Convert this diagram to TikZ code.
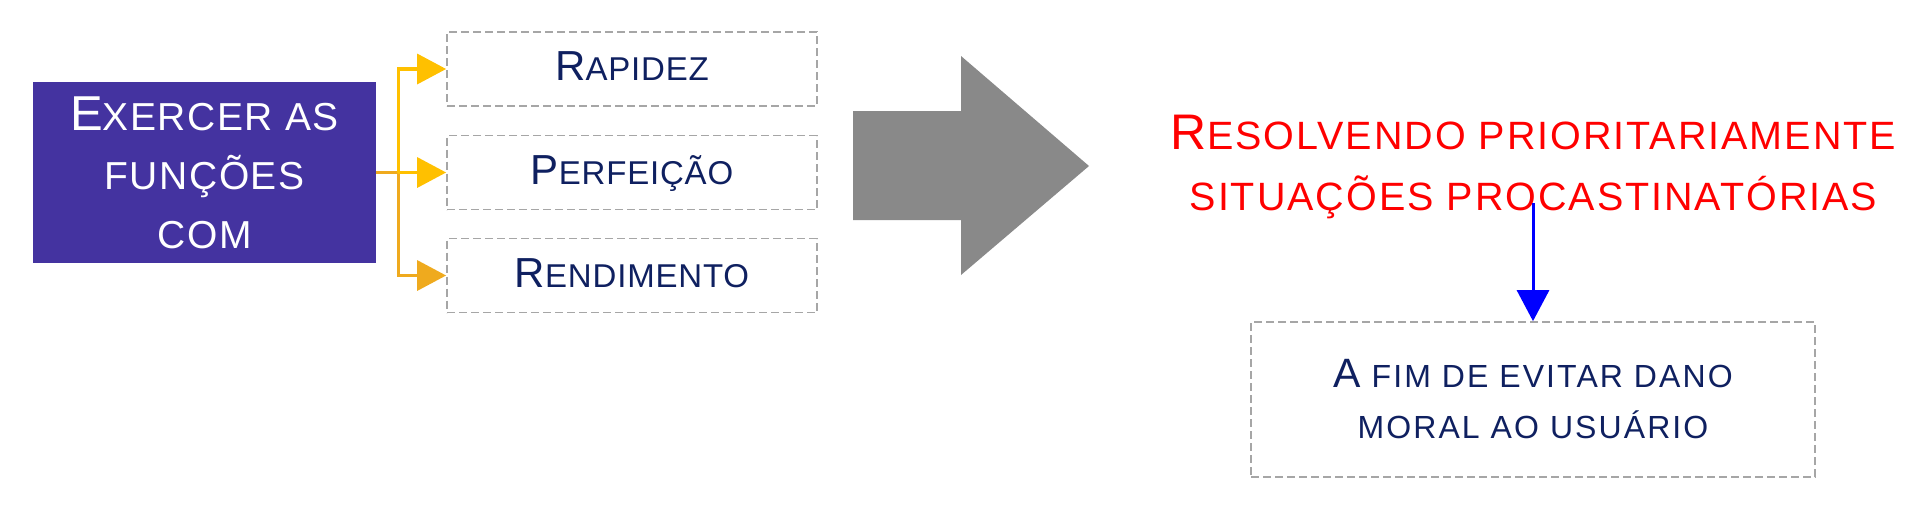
\documentclass[tikz,border=0pt]{standalone}
\usepackage{fontspec}
\setmainfont{Liberation Sans}
\usetikzlibrary{arrows.meta}
\definecolor{purplebox}{HTML}{4433A0}
\definecolor{navy}{HTML}{0F2060}
\definecolor{gold}{HTML}{FFC000}
\definecolor{amber}{HTML}{EFAA1E}
\definecolor{arrowgray}{HTML}{898989}
\definecolor{dashgray}{HTML}{A6A6A6}
\definecolor{pureblue}{HTML}{0000FF}
\definecolor{purered}{HTML}{FF0000}
\newcommand\initcap[2]{{\fontsize{#1}{#1}\selectfont #2}}
\begin{document}
\begin{tikzpicture}[x=1pt,y=-1pt,
  mainbox/.style={fill=purplebox, draw=none, minimum width=343pt, minimum height=181pt, inner sep=0pt,
    text=white, align=center, font=\fontsize{39}{59}\selectfont\addfontfeature{LetterSpace=4}},
  optbox/.style={draw=dashgray, line width=1.7pt, dash pattern=on 8pt off 4pt, minimum width=370pt,
    minimum height=74pt, inner sep=0pt, text=navy, text height=30pt, text depth=7pt,
    font=\fontsize{33}{40}\selectfont\addfontfeature{LetterSpace=2.5}},
  resbox/.style={draw=dashgray, line width=1.7pt, dash pattern=on 8pt off 4pt, minimum width=564pt,
    minimum height=155pt, inner sep=0pt, text=navy, align=center,
    font=\fontsize{32}{51}\selectfont\addfontfeature{LetterSpace=6.5}},
  redtext/.style={text=purered, align=center, inner sep=0pt,
    font=\fontsize{39.5}{60.5}\selectfont\addfontfeature{LetterSpace=5}},
  goldline/.style={draw=gold, line width=3.3pt, -{Triangle[length=29pt,width=30pt]}},
  amberline/.style={draw=amber, line width=3.3pt, -{Triangle[length=29pt,width=30pt]}},
  blueline/.style={draw=pureblue, line width=3pt, -{Triangle[length=31pt,width=32pt]}}
]
\useasboundingbox (0,0) rectangle (1925,515);

\node[mainbox] (main) at (204.5,172.5) {\initcap{49}{E}XERCER AS\\FUNÇÕES\\COM};

\node[optbox] (rap) at (632,69) {\initcap{42}{R}APIDEZ};
\node[optbox] (perf) at (632,172.5) {\initcap{42}{P}ERFEIÇÃO};
\node[optbox] (rend) at (632,275.5) {\initcap{42}{R}ENDIMENTO};

\coordinate (j) at ([xshift=22pt]main.east);
\draw[amberline] (main.east) -- (j) |- (rend.west);
\draw[goldline] (j) |- (rap.west);
\draw[goldline] (j) -- (perf.west);

\fill[arrowgray] (853,111) -- (961,111) -- (961,56) -- (1089,166) -- (961,275) -- (961,220) -- (853,220) -- cycle;

\node[redtext] (res) at (1533.5,167) {\initcap{50}{R}ESOLVENDO PRIORITARIAMENTE\\SITUAÇÕES PROCASTINATÓRIAS};

\node[resbox] (goal) at (1533,399.5) {\initcap{41}{A} FIM DE EVITAR DANO\\MORAL AO USUÁRIO};

\draw[blueline] ([yshift=16pt]res.south -| goal.north) -- (goal.north);
\end{tikzpicture}
\end{document}
